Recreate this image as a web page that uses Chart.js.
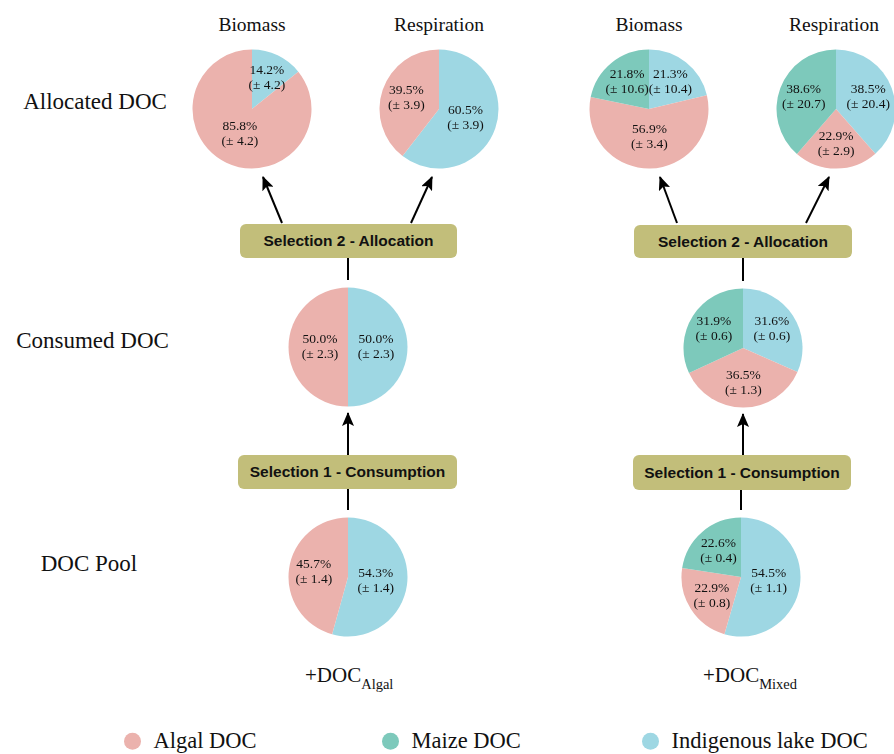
<!DOCTYPE html>
<html>
<head>
<meta charset="utf-8">
<title>DOC selection</title>
<script src="https://cdn.jsdelivr.net/npm/chart.js@4.4.1/dist/chart.umd.min.js"></script>
<style>
  html, body { margin: 0; padding: 0; background: #fff; }
  #stage { position: relative; width: 894px; height: 754px; overflow: hidden; background: #fff; }
  .pie { position: absolute; }
  .txt { position: absolute; white-space: nowrap; font-family: "Liberation Serif", "Times New Roman", serif; color: #111; transform: translate(-50%, -50%); line-height: 1; }
  .box { position: absolute; background: #c2be7a; border-radius: 6px; display: flex; align-items: center; justify-content: center;
         font-family: "Liberation Sans", Arial, sans-serif; font-weight: bold; font-size: 15.5px; color: #111; }
  .treat { position: absolute; font-family: "Liberation Serif", "Times New Roman", serif; font-size: 21px; color: #111; white-space: nowrap; transform: translateY(-50%); }
  .treat sub { font-size: 14.5px; vertical-align: -7px; }
  .leg { position: absolute; display: flex; align-items: center; font-family: "Liberation Serif", "Times New Roman", serif; font-size: 22.5px; line-height: 1; color: #111; white-space: nowrap; transform: translateY(-50%); }
  .leg i { display: inline-block; width: 17px; height: 17px; border-radius: 50%; margin-right: 13px; }
  svg { position: absolute; left: 0; top: 0; }
</style>
</head>
<body>
<div id="stage">
  <svg id="links" width="894" height="754"></svg>
</div>
<script>
// DOC sources (legend order) and their colours
const sources = ["Algal DOC", "Maize DOC", "Indigenous lake DOC"];
const sourceColors = ["#ebb2ad", "#7dc9bb", "#9ed7e3"];

// Slice order inside every pie: indigenous, algal, maize (clockwise from 12 o'clock)
const algalTreatSources = ["Indigenous lake DOC", "Algal DOC"];
const mixedTreatSources = ["Indigenous lake DOC", "Algal DOC", "Maize DOC"];

// +DOC Algal treatment (% of carbon, mean and ± error)
const algalPool        = [54.3, 45.7];
const algalPoolErr     = [1.4, 1.4];
const algalConsumed    = [50.0, 50.0];
const algalConsumedErr = [2.3, 2.3];
const algalBiomass     = [14.2, 85.8];
const algalBiomassErr  = [4.2, 4.2];
const algalResp        = [60.5, 39.5];
const algalRespErr     = [3.9, 3.9];

// +DOC Mixed treatment
const mixedPool        = [54.5, 22.9, 22.6];
const mixedPoolErr     = [1.1, 0.8, 0.4];
const mixedConsumed    = [31.6, 36.5, 31.9];
const mixedConsumedErr = [0.6, 1.3, 0.6];
const mixedBiomass     = [21.3, 56.9, 21.8];
const mixedBiomassErr  = [10.4, 3.4, 10.6];
const mixedResp        = [38.5, 22.9, 38.6];
const mixedRespErr     = [20.4, 2.9, 20.7];

// Text labels
const rowLabels = ["Allocated DOC", "Consumed DOC", "DOC Pool"];
const fateLabels = ["Biomass", "Respiration"];
const stepLabels = ["Selection 2 - Allocation", "Selection 1 - Consumption"];
const treatments = [["+DOC", "Algal"], ["+DOC", "Mixed"]];

// ---------------- layout ----------------
const stage = document.getElementById('stage');
const R = 59.5;          // pie radius
const CAN = 124;         // pie canvas size

const colorOf = name => sourceColors[sources.indexOf(name)];

// draws the "value% / (± err)" text inside each slice
const sliceLabels = {
  id: 'sliceLabels',
  afterDatasetsDraw(chart, args, opts) {
    const ctx = chart.ctx;
    const ds = chart.data.datasets[0];
    const meta = chart.getDatasetMeta(0);
    ctx.save();
    ctx.font = '13.5px "Liberation Serif", "Times New Roman", serif';
    ctx.fillStyle = '#111';
    ctx.textAlign = 'center';
    ctx.textBaseline = 'middle';
    meta.data.forEach((arc, i) => {
      const p = arc.getProps(['x', 'y', 'startAngle', 'endAngle', 'outerRadius'], true);
      const v = ds.data[i];
      const mid = (p.startAngle + p.endAngle) / 2;
      const f = v >= 50 ? 0.47 : 0.58;
      const lx = p.x + Math.cos(mid) * p.outerRadius * f;
      const ly = p.y + Math.sin(mid) * p.outerRadius * f;
      ctx.fillText(v.toFixed(1) + '%', lx, ly - 7.5);
      ctx.fillText('(\u00b1 ' + opts.errors[i].toFixed(1) + ')', lx, ly + 7.5);
    });
    ctx.restore();
  }
};

function pie(cx, cy, names, values, errors) {
  const c = document.createElement('canvas');
  c.className = 'pie';
  c.width = CAN; c.height = CAN;
  c.style.left = (cx - CAN / 2) + 'px';
  c.style.top = (cy - CAN / 2) + 'px';
  stage.appendChild(c);
  new Chart(c, {
    type: 'pie',
    data: {
      labels: names,
      datasets: [{
        data: values,
        backgroundColor: names.map(colorOf),
        borderWidth: 0,
        hoverOffset: 0,
        offset: 0
      }]
    },
    options: {
      responsive: false,
      animation: false,
      events: [],
      radius: R,
      layout: { padding: 0 },
      plugins: {
        legend: { display: false },
        tooltip: { enabled: false },
        sliceLabels: { errors: errors }
      }
    },
    plugins: [sliceLabels]
  });
}

function text(str, cx, cy, size) {
  const d = document.createElement('div');
  d.className = 'txt';
  d.style.left = cx + 'px';
  d.style.top = cy + 'px';
  d.style.fontSize = size + 'px';
  d.textContent = str;
  stage.appendChild(d);
}

function box(str, x0, y0, x1, y1) {
  const d = document.createElement('div');
  d.className = 'box';
  d.style.left = x0 + 'px';
  d.style.top = y0 + 'px';
  d.style.width = (x1 - x0) + 'px';
  d.style.height = (y1 - y0) + 'px';
  d.textContent = str;
  stage.appendChild(d);
}

// connectors
const svg = document.getElementById('links');
const NS = 'http://www.w3.org/2000/svg';
svg.innerHTML =
  '<defs><marker id="head" viewBox="0 0 14 12" refX="13" refY="6" markerWidth="14" markerHeight="12" ' +
  'orient="auto" markerUnits="userSpaceOnUse"><path d="M0,0 L14,6 L0,12 L3,6 z" fill="#000"/></marker></defs>';
function link(x0, y0, x1, y1, arrow) {
  const l = document.createElementNS(NS, 'line');
  l.setAttribute('x1', x0); l.setAttribute('y1', y0);
  l.setAttribute('x2', x1); l.setAttribute('y2', y1);
  l.setAttribute('stroke', '#000');
  l.setAttribute('stroke-width', '2');
  if (arrow) l.setAttribute('marker-end', 'url(#head)');
  svg.appendChild(l);
}

// row labels
text(rowLabels[0], 95, 101, 23);
text(rowLabels[1], 92.5, 340, 23);
text(rowLabels[2], 89, 563, 23);

// fate titles
text(fateLabels[0], 252, 25, 19.5);
text(fateLabels[1], 439, 25, 19.5);
text(fateLabels[0], 649, 25, 19.5);
text(fateLabels[1], 834, 25, 19.5);

// selection boxes
box(stepLabels[0], 240, 224, 457, 258);
box(stepLabels[0], 634, 225, 852, 258);
box(stepLabels[1], 238, 455, 457, 489);
box(stepLabels[1], 633, 455, 851, 490);

// connectors and arrows
link(282, 223, 263, 177, true);
link(411, 223, 432, 177, true);
link(677, 223, 660, 177, true);
link(806, 223, 829, 177, true);
link(348, 455, 348, 413, true);
link(743, 455, 743, 414, true);
link(348, 258, 348, 280, false);
link(743, 258, 743, 281, false);
link(348, 489, 348, 510, false);
link(741, 490, 741, 510, false);

// pies: +DOC Algal
pie(252, 108.5, algalTreatSources, algalBiomass, algalBiomassErr);
pie(439, 108.5, algalTreatSources, algalResp, algalRespErr);
pie(347.5, 347, algalTreatSources, algalConsumed, algalConsumedErr);
pie(347.5, 577, algalTreatSources, algalPool, algalPoolErr);
// pies: +DOC Mixed
pie(649, 108.5, mixedTreatSources, mixedBiomass, mixedBiomassErr);
pie(836, 108.5, mixedTreatSources, mixedResp, mixedRespErr);
pie(743, 348, mixedTreatSources, mixedConsumed, mixedConsumedErr);
pie(740.5, 577, mixedTreatSources, mixedPool, mixedPoolErr);

// treatment labels
[[305, treatments[0]], [703, treatments[1]]].forEach(([x, t]) => {
  const d = document.createElement('div');
  d.className = 'treat';
  d.style.left = x + 'px';
  d.style.top = '678px';
  d.innerHTML = t[0] + '<sub>' + t[1] + '</sub>';
  stage.appendChild(d);
});

// legend
[[123.5, 0], [381.5, 1], [641.5, 2]].forEach(([x, k]) => {
  const d = document.createElement('div');
  d.className = 'leg';
  d.style.left = x + 'px';
  d.style.top = '741px';
  const dot = document.createElement('i');
  dot.style.background = sourceColors[k];
  d.appendChild(dot);
  d.appendChild(document.createTextNode(sources[k]));
  stage.appendChild(d);
});
</script>
</body>
</html>
